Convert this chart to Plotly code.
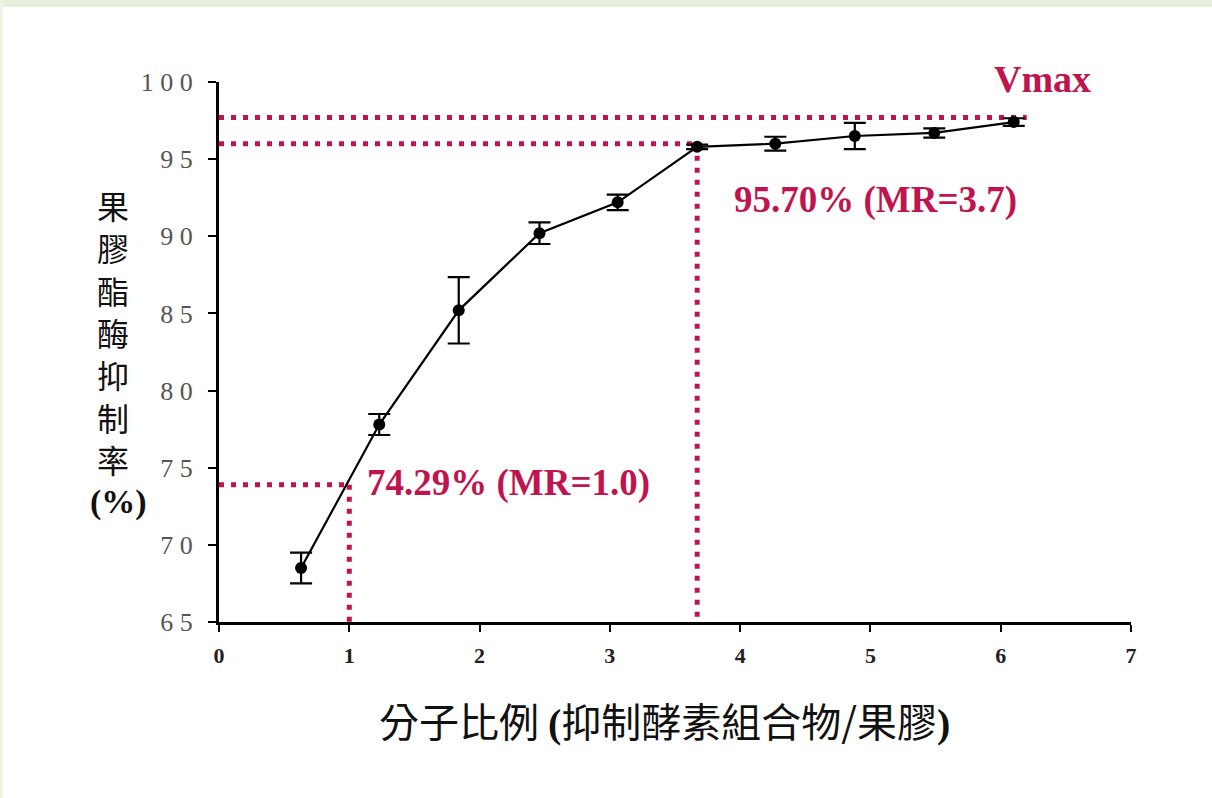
import plotly.graph_objects as go

# ---- data ----
mr = [0.63, 1.23, 1.84, 2.46, 3.06, 3.67, 4.27, 4.88, 5.49, 6.10]
inhibition = [68.5, 77.8, 85.2, 90.2, 92.2, 95.8, 96.0, 96.5, 96.7, 97.4]
err = [1.0, 0.68, 2.15, 0.7, 0.5, 0.15, 0.45, 0.85, 0.3, 0.25]

y_ticks = [65, 70, 75, 80, 85, 90, 95, 100]
y_tick_text = ["6 5", "7 0", "7 5", "8 0", "8 5", "9 0", "9 5", "1 0 0"]
x_ticks = [0, 1, 2, 3, 4, 5, 6, 7]

# guide lines (values as drawn)
mr_guides = [1.0, 3.67]
y_guides = [73.9, 96.0]
vmax_level = 97.7
vmax_end = 6.2

labels = ["74.29% (MR=1.0)", "95.70% (MR=3.7)"]
y_title_chars = ["果", "膠", "酯", "酶", "抑", "制", "率", "(%)"]

RED = "#C0144E"
DASH = "5px,7px"

fig = go.Figure()

# dotted guide lines
for xm, yg in zip(mr_guides, y_guides):
    fig.add_trace(go.Scatter(x=[0, xm], y=[yg, yg], mode="lines",
                             line=dict(color=RED, width=5, dash=DASH),
                             hoverinfo="skip", showlegend=False, cliponaxis=False))
    fig.add_trace(go.Scatter(x=[xm, xm], y=[yg, 65], mode="lines",
                             line=dict(color=RED, width=5, dash=DASH),
                             hoverinfo="skip", showlegend=False, cliponaxis=False))
fig.add_trace(go.Scatter(x=[0, vmax_end], y=[vmax_level, vmax_level], mode="lines",
                         line=dict(color=RED, width=5, dash=DASH),
                         hoverinfo="skip", showlegend=False, cliponaxis=False))

# data
fig.add_trace(go.Scatter(
    x=mr, y=inhibition, mode="lines+markers",
    line=dict(color="black", width=2.2),
    marker=dict(color="black", size=12),
    error_y=dict(type="data", array=err, visible=True, color="black",
                 thickness=2.2, width=11),
    showlegend=False, cliponaxis=False))

# annotations
fig.add_annotation(x=mr_guides[0], y=74.0, xref="x", yref="y", text=labels[0],
                   showarrow=False, xanchor="left", yanchor="middle", xshift=16,
                   font=dict(family="Liberation Serif", size=37, color=RED, weight="bold"))
fig.add_annotation(x=mr_guides[1], y=92.35, xref="x", yref="y", text=labels[1],
                   showarrow=False, xanchor="left", yanchor="middle", xshift=35,
                   font=dict(family="Liberation Serif", size=37, color=RED, weight="bold"))
fig.add_annotation(x=vmax_end, y=vmax_level, xref="x", yref="y", text="Vmax",
                   showarrow=False, xanchor="center", yanchor="bottom", xshift=16, yshift=15,
                   font=dict(family="Liberation Serif", size=38, color=RED, weight="bold"))

# vertical y-axis title (stacked characters)
H = 540.0
W = 912.0
for i, ch in enumerate(y_title_chars):
    if ch == "(%)":
        ypix, xpix, fam, sz, wt = 502, 118, "Liberation Serif", 34, "bold"
    else:
        ypix, xpix, fam, sz, wt = 205 + i * 42.3, 113, "Noto Sans CJK TC", 32, "normal"
    fig.add_annotation(x=(xpix - 219) / W, y=(622 - ypix) / H, xref="paper", yref="paper",
                       text=ch, showarrow=False, xanchor="center", yanchor="middle",
                       font=dict(family=fam, size=sz, color="#111", weight=wt))

# x title
fig.add_annotation(x=(664 - 219) / W, y=-(720 - 622) / H, xref="paper", yref="paper",
                   text="分子比例 <span style='font-family:Liberation Serif;font-weight:bold'>(</span>抑制酵素組合物/果膠<span style='font-family:Liberation Serif;font-weight:bold'>)</span>",
                   showarrow=False, xanchor="center", yanchor="middle",
                   font=dict(family="Noto Sans CJK TC", size=40, color="#111"))

# light frame strips
fig.add_shape(type="rect", xref="paper", yref="paper",
              x0=-219 / W, x1=(1212 - 219) / W,
              y0=1 + 75 / H, y1=1 + 82 / H,
              fillcolor="#E6EFDC", line=dict(width=0), layer="below")
fig.add_shape(type="rect", xref="paper", yref="paper",
              x0=-219 / W, x1=-216 / W,
              y0=-176 / H, y1=1 + 82 / H,
              fillcolor="#EEF3E4", line=dict(width=0), layer="below")

fig.update_layout(
    width=1212, height=798,
    margin=dict(l=219, r=81, t=82, b=176, pad=0),
    paper_bgcolor="white", plot_bgcolor="white",
    xaxis=dict(range=[0, 7], tickvals=x_ticks, showgrid=False, zeroline=False,
               showline=True, linecolor="black", linewidth=3,
               ticks="outside", ticklen=7, tickwidth=2, tickcolor="black",
               tickfont=dict(family="Liberation Serif", size=22, color="#222", weight="bold"),
               ticklabelstandoff=5),
    yaxis=dict(range=[65, 100], tickvals=y_ticks, ticktext=y_tick_text,
               showgrid=False, zeroline=False,
               showline=True, linecolor="black", linewidth=3,
               ticks="outside", ticklen=8, tickwidth=2, tickcolor="black",
               tickfont=dict(family="Liberation Serif", size=26, color="#555"),
               ticklabelstandoff=10),
)

fig.write_html("out.html", config={"displayModeBar": False},
               post_script="document.body.style.margin='0px';")
